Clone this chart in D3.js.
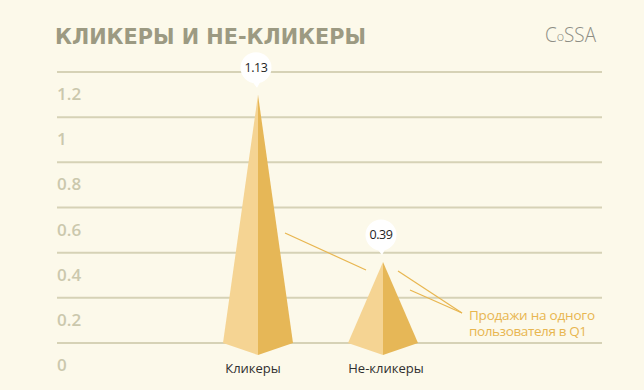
<!DOCTYPE html>
<html>
<head>
<meta charset="utf-8">
<script src="https://cdn.jsdelivr.net/npm/d3@7"></script>
<style>
  body { margin: 0; background: #fcf9ea; }
  svg { display: block; }
</style>
</head>
<body>
<svg width="644" height="390"></svg>
<script>
const categories = ['Кликеры', 'Не-кликеры'];
const values = [1.13, 0.39];
const valueLabels = ['1.13', '0.39'];
const ticks = [0, 0.2, 0.4, 0.6, 0.8, 1, 1.2];
const tickLabels = ['0', '0.2', '0.4', '0.6', '0.8', '1', '1.2'];
const noteLines = ['Продажи на одного', 'пользователя в Q1'];

const svg = d3.select('svg');
svg.append('rect').attr('width', 644).attr('height', 390).attr('fill', '#fcf9ea');

const x = d3.scalePoint().domain(categories).range([258, 383]);
const y = d3.scaleLinear().domain([0, 1.2]).range([343, 72]);

// title + logo
svg.append('text')
  .attr('x', 55).attr('y', 43.5)
  .attr('font-family', '"DejaVu Sans", "Liberation Sans", sans-serif')
  .attr('font-weight', 700).attr('font-size', 21.5)
  .attr('textLength', 311).attr('lengthAdjust', 'spacingAndGlyphs')
  .attr('fill', '#9c9a82')
  .text('КЛИКЕРЫ И НЕ-КЛИКЕРЫ');

svg.append('text')
  .attr('x', 545).attr('y', 42)
  .attr('font-family', '"Open Sans", sans-serif')
  .attr('font-weight', 300).attr('font-size', 19.5)
  .attr('textLength', 51).attr('lengthAdjust', 'spacingAndGlyphs')
  .attr('fill', '#8d8d84')
  .html('C<tspan font-size="13" dy="-1.5">o</tspan><tspan dy="1.5">SSA</tspan>');

// grid
svg.selectAll('.grid')
  .data(ticks)
  .enter()
  .append('line')
  .attr('x1', 57).attr('x2', 602)
  .attr('y1', d => y(d)).attr('y2', d => y(d))
  .attr('stroke', '#d6d2b6').attr('stroke-width', 2);

svg.selectAll('.tick-label')
  .data(ticks)
  .enter()
  .append('text')
  .attr('x', 57)
  .attr('y', d => y(d) + 28)
  .attr('font-family', '"Open Sans", sans-serif')
  .attr('font-weight', 600).attr('font-size', 17)
  .attr('fill', '#cbc8ad')
  .text((d, i) => tickLabels[i]);

// pyramids
const half = 35;
const front = 12;
const tipInset = 7;
const labelShift = [-5, 3];
categories.forEach((c, i) => {
  const cx = x(c);
  const base = y(0);
  const top = y(values[i]) + tipInset;
  svg.append('path')
    .attr('d', `M${cx},${top}L${cx - half},${base}L${cx},${base + front}Z`)
    .attr('fill', '#f5d493');
  svg.append('path')
    .attr('d', `M${cx},${top}L${cx + half},${base}L${cx},${base + front}Z`)
    .attr('fill', '#e6b757');

  // bubble
  const bx = cx - 2;
  const by = top - 27;
  const g = svg.append('g');
  g.append('path')
    .attr('d', `M${bx - 6},${by + 11}L${bx + 1},${by + 20}L${bx + 6},${by + 11}Z`)
    .attr('fill', '#fff');
  g.append('circle').attr('cx', bx).attr('cy', by).attr('r', 15.5).attr('fill', '#fff');
  g.append('text')
    .attr('x', bx).attr('y', by + 4.5)
    .attr('text-anchor', 'middle')
    .attr('font-family', '"Open Sans", sans-serif')
    .attr('font-size', 12.5).attr('letter-spacing', -0.4)
    .attr('fill', '#1e1e1e')
    .text(valueLabels[i]);

  svg.append('text')
    .attr('x', cx + labelShift[i]).attr('y', 373)
    .attr('text-anchor', 'middle')
    .attr('font-family', '"Open Sans", sans-serif')
    .attr('font-weight', 500).attr('font-size', 13)
    .attr('fill', '#2f2f2f')
    .text(c);
});

// annotation
const gold = '#e8b650';
const lines = [
  [285, 233, 366, 270],
  [398, 271, 462, 313],
  [410, 290, 462, 313]
];
svg.selectAll('.ann')
  .data(lines)
  .enter()
  .append('line')
  .attr('x1', d => d[0]).attr('y1', d => d[1])
  .attr('x2', d => d[2]).attr('y2', d => d[3])
  .attr('stroke', gold).attr('stroke-width', 1.2);

svg.selectAll('.note')
  .data(noteLines)
  .enter()
  .append('text')
  .attr('x', 469)
  .attr('y', (d, i) => 320 + i * 16)
  .attr('font-family', '"Open Sans", sans-serif')
  .attr('font-size', 13.5)
  .attr('textLength', (d, i) => i === 0 ? 126 : 118)
  .attr('fill', gold)
  .text(d => d);
</script>
</body>
</html>
